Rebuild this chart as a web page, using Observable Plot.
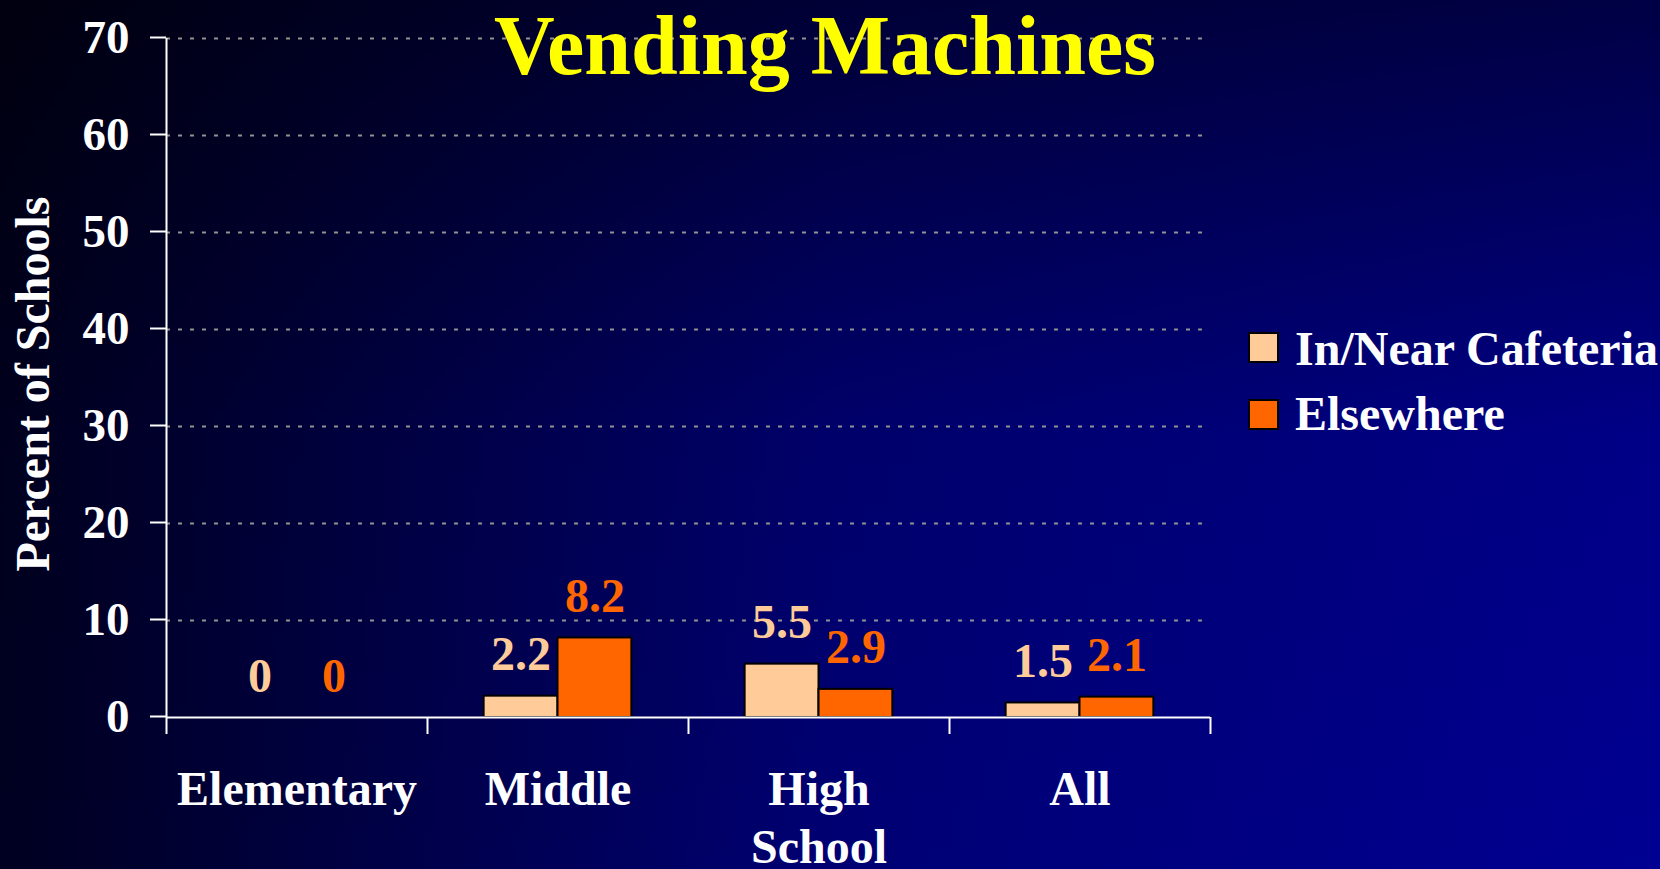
<!DOCTYPE html>
<html>
<head>
<meta charset="utf-8">
<script src="https://cdn.jsdelivr.net/npm/d3@7"></script>
<script src="https://cdn.jsdelivr.net/npm/@observablehq/plot@0.6"></script>
<style>
html, body { margin: 0; padding: 0; overflow: hidden; }
body {
  width: 1660px; height: 869px; position: relative;
  background-color: #ffffff;
  background-image:
    linear-gradient(to bottom, rgb(120,120,120) 0%, rgb(235,235,235) 50%, rgb(255,255,255) 100%),
    linear-gradient(to right, #000020 0%, #000073 50%, #000092 100%);
  background-blend-mode: multiply;
  font-family: "Liberation Serif", "Times New Roman", serif;
  font-weight: bold;
}
#chart { position: absolute; left: 0; top: 0; }
#title {
  position: absolute; left: 0; top: 4px; width: 1650px; text-align: center;
  color: #ffff00; font-size: 84px; line-height: 84px; white-space: nowrap;
}
#ylabel {
  position: absolute; left: -267.5px; top: 360px; width: 600px; text-align: center;
  color: #ffffff; font-size: 48px; line-height: 48px; white-space: nowrap;
  transform: rotate(-90deg);
}
.lg-box { position: absolute; left: 1248px; width: 31px; height: 31px; box-sizing: border-box; border: 2px solid #000; }
.lg-text { position: absolute; left: 1295px; color: #fff; font-size: 48px; line-height: 48px; white-space: nowrap; }
</style>
</head>
<body>
<div id="chart"></div>
<div id="title">Vending Machines</div>
<div id="ylabel">Percent of Schools</div>
<div id="legend"></div>
<script>
// ---- data ----
const categories = ["Elementary", "Middle", "High\nSchool", "All"];
const series = ["In/Near Cafeteria", "Elsewhere"];
const cafeteria = [0, 2.2, 5.5, 1.5];
const elsewhere = [0, 8.2, 2.9, 2.1];
const yTicks = [0, 10, 20, 30, 40, 50, 60, 70];
const colors = ["#FFCC99", "#FF6600"];

// ---- table ----
const values = [cafeteria, elsewhere];
const rows = categories.flatMap((c, i) =>
  series.map((s, j) => ({i, category: c, series: s, j, value: values[j][i]}))
);

const barW = 0.283; // bar width in category units
const x1 = d => d.i + 0.5 + (d.j - 1) * barW;
const x2 = d => d.i + 0.5 + d.j * barW;
const xc = d => d.i + 0.5 + (d.j - 0.5) * barW;

const font = '"Liberation Serif", "Times New Roman", serif';

const chart = Plot.plot({
  width: 1660,
  height: 869,
  marginLeft: 166,
  marginRight: 450,
  marginTop: 38,
  marginBottom: 152,
  style: {background: "transparent", color: "white", fontFamily: font, fontWeight: "bold", fontSize: "47px", overflow: "visible"},
  x: {domain: [0, categories.length], axis: null},
  y: {domain: [0, 70], axis: null},
  color: {domain: series, range: colors},
  marks: [
    Plot.gridY(yTicks.slice(1), {stroke: "#929292", strokeOpacity: 1, strokeWidth: 2, strokeDasharray: "4,8"}),
    Plot.rectY(rows, {x1, x2, y1: 0, y2: "value", fill: "series", stroke: "black", strokeWidth: 2}),
    Plot.text(rows, {x: xc, y: "value", text: d => String(d.value), fill: "series", dy: -26, lineAnchor: "bottom", fontSize: 48}),
    Plot.axisY({ticks: yTicks, tickSize: 16, tickPadding: 21, stroke: "white", strokeWidth: 2, fontSize: 47, dy: -1, label: null}),
    Plot.axisX({ticks: d3.range(categories.length + 1), tickSize: 17, tickFormat: () => "", stroke: "white", strokeWidth: 2, label: null}),
    Plot.axisX({ticks: categories.map((c, i) => i + 0.5), tickSize: 0, tickPadding: 47, tickFormat: d => categories[Math.floor(d)], fontSize: 48, lineHeight: 1.2, label: null}),
    Plot.ruleY([0], {stroke: "white", strokeWidth: 2}),
    Plot.ruleX([0], {stroke: "white", strokeWidth: 2})
  ]
});
document.getElementById("chart").appendChild(chart);

// ---- legend ----
const legend = document.getElementById("legend");
series.forEach((s, j) => {
  const box = document.createElement("div");
  box.className = "lg-box";
  box.style.top = (332 + j * 67) + "px";
  box.style.background = colors[j];
  legend.appendChild(box);
  const t = document.createElement("div");
  t.className = "lg-text";
  t.style.top = (325 + j * 65) + "px";
  t.textContent = s;
  legend.appendChild(t);
});
</script>
</body>
</html>
